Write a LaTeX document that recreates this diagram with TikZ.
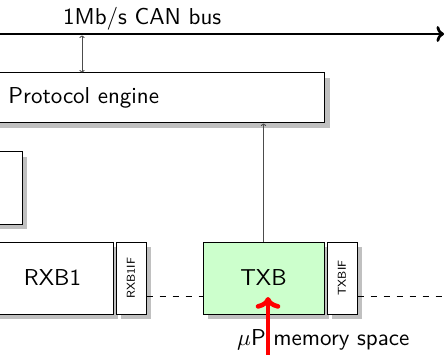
\documentclass[tikz,border=0pt]{standalone}
\usetikzlibrary{arrows.meta,shadows}
\definecolor{txbgreen}{HTML}{CCFFCC}
\definecolor{shadowgray}{HTML}{C0C0C0}
\newcommand\bigtxt[1]{\scalebox{2.3}{\fontsize{10}{12}\selectfont\sffamily #1}}
\newcommand\smalltxt[1]{\scalebox{2.3}{\fontsize{5}{6}\selectfont\sffamily #1}}
\tikzset{
  blockbox/.style={draw=black, line width=1pt, fill=white, inner sep=0pt,
    drop shadow={shadow xshift=5pt, shadow yshift=-5pt, fill=shadowgray, opacity=1}},
  flagbox/.style={blockbox, minimum width=30pt, minimum height=72pt},
  bufbox/.style={blockbox, minimum width=121pt, minimum height=72pt},
  thinconn/.style={draw=black!70, line width=0.9pt},
  dashconn/.style={draw=black, line width=1pt, dash pattern=on 6pt off 7pt},
  busline/.style={draw=black, line width=2.7pt, -{To}},
  redarrow/.style={draw=red, line width=4.6pt, -{To}},
}
\begin{document}
\begin{tikzpicture}[x=1pt,y=-1pt]
\useasboundingbox (0,0) rectangle (446,355);
% bus
\coordinate (busL) at (-10,34);
\coordinate (busR) at (444,34);
\draw[busline] (busL) -- (busR);
\node[anchor=base west, inner sep=0pt] (buslabel) at (63,25) {\bigtxt{1Mb/s CAN bus}};
% protocol engine
\node[blockbox, anchor=west, minimum height=50pt, text width=298pt, align=left, inner xsep=18pt] (pe) at (-10,98) {\bigtxt{Protocol engine}};
% left box
\node[blockbox, minimum width=82pt, minimum height=72pt] (lb) at (-19,188) {};
% buffers
\node[bufbox] (rxb) at (52.5,278) {\bigtxt{RXB1}};
\node[flagbox] (rxbif) at (131,278) {\rotatebox{90}{\smalltxt{RXB1IF}}};
\node[bufbox, fill=txbgreen] (txb) at (263.5,278) {\bigtxt{TXB}};
\node[flagbox] (txbif) at (342,278) {\rotatebox{90}{\smalltxt{TXBIF}}};
% connectors
\coordinate (bc) at (82,35.5);
\draw[thinconn, {To[length=2.5pt]}-{To[length=2.5pt]}] (bc) -- (pe.north -| bc);
\draw[thinconn, -{To[length=2.5pt]}] (txb.north) -- (txb.north |- pe.south);
\coordinate (dl) at (0,296);
\coordinate (dr) at (446,296);
\draw[dashconn] (rxbif.east |- dl) -- (txb.west |- dl);
\draw[dashconn] (txbif.east |- dl) -- (dr);
% memory space
\node[anchor=base west, inner sep=0pt] (mem) at (237,345) {\bigtxt{$\mu$P memory space}};
\coordinate (rs) at (268,365);
\coordinate (rt) at (268,297);
\draw[redarrow] (rs) -- (rt);
\end{tikzpicture}
\end{document}
